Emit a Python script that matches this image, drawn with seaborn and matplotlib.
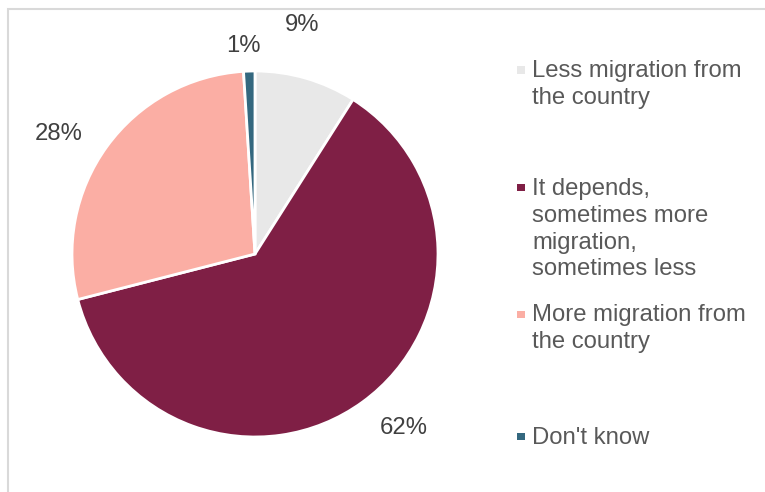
import numpy as np
import matplotlib
matplotlib.use("Agg")
import matplotlib.pyplot as plt
from matplotlib.patches import Rectangle
import seaborn as sns

# Survey answers and their shares (percent)
categories = [
    "Less migration from\nthe country",
    "It depends,\nsometimes more\nmigration,\nsometimes less",
    "More migration from\nthe country",
    "Don't know",
]
shares = [9, 62, 28, 1]
colors = ["#E8E8E8", "#7F1F45", "#FBAEA4", "#34687F"]

sns.set_theme(style="white")
plt.rcParams["font.family"] = ["Liberation Sans", "DejaVu Sans"]

W, H, DPI = 765, 492, 100
fig = plt.figure(figsize=(W / DPI, H / DPI), dpi=DPI)

# Pie geometry in pixels
cx, cy, R = 255, 254, 183
ax = fig.add_axes([0, 0, 1, 1])

wedges, _ = ax.pie(
    shares,
    colors=colors,
    startangle=90,
    counterclock=False,
    radius=1,
    wedgeprops=dict(edgecolor="white", linewidth=2.0),
)
ax.set_aspect("auto")
ax.set_xlim(-cx / R, (W - cx) / R)
ax.set_ylim(-(H - cy) / R, cy / R)
ax.axis("off")

FS = 17.2

# Percentage labels placed outside each wedge
label_dist = [1.28, 1.25, 1.26, 1.14]
angle_shift = [4.5, 4.5, 4.5, 1.5]
for w, v, d, s in zip(wedges, shares, label_dist, angle_shift):
    ang = np.deg2rad((w.theta1 + w.theta2) / 2 + s)
    ax.text(d * np.cos(ang), d * np.sin(ang), f"{v}%",
            ha="center", va="center", fontsize=FS, color="#404040")

# Legend built as colored squares with wrapped labels
legend_y = [70, 188, 314, 436]
for lab, col, y in zip(categories, colors, legend_y):
    fig.patches.append(Rectangle((517 / W, 1 - (y + 3.5) / H), 8 / W, 7 / H,
                                 transform=fig.transFigure, facecolor=col,
                                 edgecolor="none"))
    fig.text(532 / W, 1 - (y - 9.5) / H, lab, ha="left", va="top",
             fontsize=FS, color="#595959", linespacing=1.27)

# Light frame around the chart area
fig.patches.append(Rectangle((7.5 / W, -0.1), 1.2, 1 - 8.5 / H + 0.1,
                             transform=fig.transFigure, facecolor="none",
                             edgecolor="#D9D9D9", linewidth=1.5))

fig.savefig("out.png", dpi=DPI)
